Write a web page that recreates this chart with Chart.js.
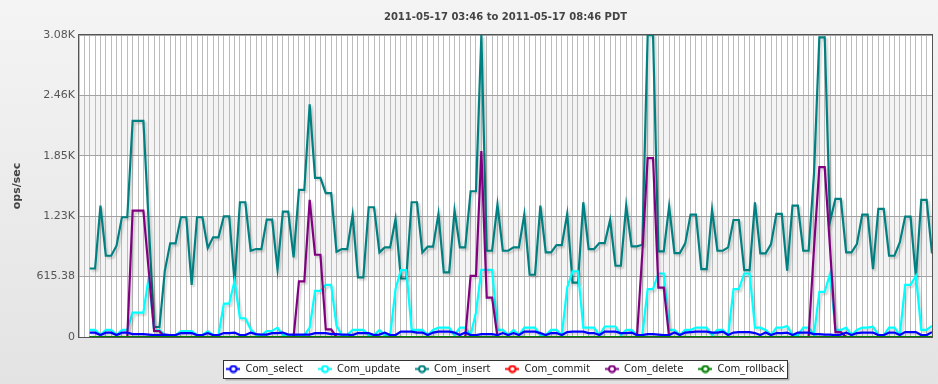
<!DOCTYPE html>
<html>
<head>
<meta charset="utf-8">
<script src="https://cdn.jsdelivr.net/npm/chart.js@4.4.0/dist/chart.umd.min.js"></script>
<style>
  html, body { margin: 0; padding: 0; }
  body { width: 938px; height: 384px; background: linear-gradient(#f4f4f4, #e3e3e3); overflow: hidden; }
  #wrap { width: 938px; height: 384px; }
</style>
</head>
<body>
<div id="wrap"><canvas id="opsChart" width="938" height="384"></canvas></div>
<script>
// samples every ~1.89 min, 03:46 -> 08:46 (x axis in minutes after 03:46)
const tickMinutes = [43.33, 86.67, 130, 173.33, 216.67, 260];
const tickLabels = ['04:29', '05:12', '05:56', '06:39', '07:23', '08:06'];
const yTicks = [0, 615.38, 1230.77, 1846.15, 2461.54, 3076.92];
const yTickLabels = ['0', '615.38', '1.23K', '1.85K', '2.46K', '3.08K'];

const comSelect = [
  44, 44, 20, 44, 44, 20, 44, 44, 30, 30, 30, 25, 20, 20, 25, 20, 20, 40, 40, 40, 20, 20, 40, 20, 20, 40, 40, 45, 20, 20, 45,
  30, 25, 25, 40, 40, 45, 25, 25, 25, 25, 25, 40, 40, 40, 30, 30, 25, 25, 20, 40, 40, 40, 20, 25, 45, 20, 20, 55, 55, 55, 45, 45,
  20, 45, 55, 55, 55, 45, 20, 45, 20, 20, 30, 30, 30, 20, 40, 20, 40, 20, 55, 55, 55, 40, 20, 40, 40, 20, 50, 55, 55, 55, 40,
  40, 20, 55, 55, 55, 40, 40, 45, 20, 20, 30, 30, 25, 20, 20, 45, 20, 45, 50, 55, 55, 55, 45, 45, 55, 20, 45, 50, 50, 50, 40, 20,
  45, 20, 40, 40, 45, 20, 45, 45, 45, 30, 30, 25, 25, 20, 25, 45, 20, 40, 45, 45, 45, 20, 20, 45, 45, 20, 50, 50, 50, 20, 20, 50
];
const comUpdate = [
  72, 72, 20, 72, 72, 20, 72, 72, 249, 249, 249, 610, 61, 72, 20, 20, 20, 61, 61, 61, 20, 20, 61, 20, 20, 341, 341, 572, 191, 191, 78,
  20, 20, 61, 61, 95, 20, 20, 20, 20, 20, 95, 470, 470, 532, 532, 112, 20, 20, 72, 72, 72, 20, 20, 72, 20, 20, 487, 681, 681, 72, 72, 72,
  20, 72, 95, 95, 95, 20, 95, 95, 20, 250, 683, 683, 683, 72, 72, 20, 72, 20, 95, 95, 95, 20, 20, 72, 72, 20, 504, 668, 668, 95, 95,
  95, 20, 107, 107, 107, 20, 72, 72, 20, 20, 487, 487, 647, 647, 72, 72, 20, 72, 72, 95, 95, 95, 20, 72, 72, 20, 487, 487, 647, 647, 95, 95,
  72, 20, 95, 95, 112, 20, 20, 95, 95, 20, 460, 460, 647, 72, 72, 95, 20, 72, 95, 95, 105, 20, 20, 95, 95, 20, 532, 532, 623, 72, 72, 112
];
const comInsert = [
  698, 698, 1339, 828, 828, 930, 1220, 1220, 2201, 2201, 2201, 1152, 102, 102, 675, 954, 954, 1220, 1220, 531, 1220, 1220, 906, 1015, 1015, 1230, 1230, 555, 1373, 1373, 879,
  896, 896, 1196, 1196, 692, 1278, 1278, 811, 1499, 1499, 2371, 1622, 1622, 1465, 1465, 869, 896, 896, 1244, 606, 606, 1322, 1322, 862, 913, 913, 1203, 596, 596, 1373, 1373, 862,
  920, 920, 1254, 658, 658, 1288, 913, 913, 1485, 1485, 3076, 879, 879, 1349, 879, 879, 913, 913, 1247, 634, 634, 1339, 862, 862, 937, 937, 1254, 555, 555, 1373, 896,
  896, 957, 957, 1192, 726, 726, 1339, 923, 923, 940, 3076, 3076, 872, 872, 1332, 855, 855, 954, 1247, 1247, 692, 692, 1295, 879, 879, 913, 1192, 1192, 681, 681, 1373, 852,
  852, 947, 1254, 1254, 675, 1339, 1339, 879, 879, 1659, 3053, 3053, 1179, 1407, 1407, 862, 862, 947, 1247, 1247, 692, 1305, 1305, 828, 828, 964, 1227, 1227, 606, 1397, 1397, 852
];
const comCommit = [
  0, 0, 0, 0, 0, 0, 0, 0, 0, 0, 0, 0, 0, 0, 0, 0, 0, 0, 0, 0, 0, 0, 0, 0, 0, 0, 0, 0, 0, 0, 0,
  0, 0, 0, 0, 0, 0, 0, 0, 0, 0, 0, 0, 0, 0, 0, 0, 0, 0, 0, 0, 0, 0, 0, 0, 0, 0, 0, 0, 0, 0, 0, 0,
  0, 0, 0, 0, 0, 0, 0, 0, 0, 0, 0, 0, 0, 0, 0, 0, 0, 0, 0, 0, 0, 0, 0, 0, 0, 0, 0, 0, 0, 0, 0,
  0, 0, 0, 0, 0, 0, 0, 0, 0, 0, 0, 0, 0, 0, 0, 0, 0, 0, 0, 0, 0, 0, 0, 0, 0, 0, 0, 0, 0, 0, 0, 0,
  0, 0, 0, 0, 0, 0, 0, 0, 0, 0, 0, 0, 0, 0, 0, 0, 0, 0, 0, 0, 0, 0, 0, 0, 0, 0, 0, 0, 0, 0, 0, 0
];
const comDelete = [
  0, 0, 0, 0, 0, 0, 0, 0, 1288, 1288, 1288, 675, 61, 61, 0, 0, 0, 0, 0, 0, 0, 0, 0, 0, 0, 0, 0, 0, 0, 0, 0,
  0, 0, 0, 0, 0, 0, 0, 0, 566, 566, 1397, 838, 838, 78, 78, 0, 0, 0, 0, 0, 0, 0, 0, 0, 0, 0, 0, 0, 0, 0, 0, 0,
  0, 0, 0, 0, 0, 0, 0, 0, 623, 623, 1894, 402, 402, 0, 0, 0, 0, 0, 0, 0, 0, 0, 0, 0, 0, 0, 0, 0, 0, 0, 0,
  0, 0, 0, 0, 0, 0, 0, 0, 0, 850, 1823, 1823, 504, 504, 0, 0, 0, 0, 0, 0, 0, 0, 0, 0, 0, 0, 0, 0, 0, 0, 0, 0,
  0, 0, 0, 0, 0, 0, 0, 0, 0, 900, 1731, 1731, 900, 50, 50, 0, 0, 0, 0, 0, 0, 0, 0, 0, 0, 0, 0, 0, 0, 0, 0, 0
];
const comRollback = comCommit.slice(); // flat zero line as well

const step = 300 / 159;
const gridTicks = [];
for (let k = 0; k <= 159; k++) gridTicks.push({ value: k * step });

function pts(arr) {
  return arr.map((v, i) => ({ x: (i + 2) * step, y: v }));
}

function marker(color) {
  const c = document.createElement('canvas');
  c.width = 14; c.height = 9;
  const g = c.getContext('2d');
  g.strokeStyle = color; g.lineWidth = 2;
  g.beginPath(); g.moveTo(0, 4.5); g.lineTo(14, 4.5); g.stroke();
  g.beginPath(); g.arc(7, 4.5, 3, 0, Math.PI * 2);
  g.fillStyle = '#fff'; g.fill(); g.stroke();
  return c;
}

const font = 'DejaVu Sans';

const bgPlugin = {
  id: 'bg',
  beforeDraw(chart) {
    const { ctx, chartArea: a } = chart;
    const y = chart.scales.y;
    ctx.save();
    ctx.fillStyle = '#fff';
    ctx.fillRect(a.left, a.top, a.right - a.left, a.bottom - a.top);
    ctx.fillStyle = '#f4f4f4';
    [[1, 2], [3, 4]].forEach(([lo, hi]) => {
      const t = y.getPixelForValue(yTicks[hi]);
      const b = y.getPixelForValue(yTicks[lo]);
      ctx.fillRect(a.left, t, a.right - a.left, b - t);
    });
    // legend frame
    const boxes = chart.legend.legendHitBoxes;
    if (boxes && boxes.length) {
      const first = boxes[0], last = boxes[boxes.length - 1];
      const l = Math.round(first.left - 3) + 0.5;
      const r = Math.round(last.left + last.width + 2) + 0.5;
      const cy = first.top + first.height / 2;
      const t = Math.round(cy - 9) + 0.5, h = 18;
      ctx.fillStyle = 'rgba(0,0,0,0.22)';
      ctx.fillRect(l + 2, t + 2, r - l, h);
      ctx.fillStyle = '#fff';
      ctx.fillRect(l, t, r - l, h);
      ctx.strokeStyle = '#333';
      ctx.lineWidth = 1;
      ctx.strokeRect(l, t, r - l, h);
    }
    ctx.restore();
  },
  beforeDatasetsDraw(chart) {
    const ctx = chart.ctx;
    ctx.save();
    ctx.shadowColor = 'rgba(0,0,0,0.18)';
    ctx.shadowBlur = 2;
    ctx.shadowOffsetX = 2;
    ctx.shadowOffsetY = 2;
  },
  afterDatasetsDraw(chart) {
    const { ctx, chartArea: a } = chart;
    ctx.restore();
    ctx.save();
    ctx.strokeStyle = '#555';
    ctx.lineWidth = 1;
    ctx.strokeRect(Math.round(a.left) - 0.5, Math.round(a.top) - 0.5, Math.round(a.right - a.left) + 1, Math.round(a.bottom - a.top) + 1);
    ctx.restore();
  }
};

function line(label, data, color, order) {
  return {
    label: label,
    data: pts(data),
    borderColor: color,
    backgroundColor: color,
    borderWidth: 2.2,
    pointRadius: 0,
    tension: 0,
    fill: false,
    order: order
  };
}

new Chart(document.getElementById('opsChart'), {
  type: 'line',
  data: {
    datasets: [
      line('Com_select', comSelect, '#0000ff', 2),
      line('Com_update', comUpdate, '#00ffff', 4),
      line('Com_insert', comInsert, '#008080', 5),
      line('Com_commit', comCommit, '#ff0000', 1),
      line('Com_delete', comDelete, '#800080', 3),
      line('Com_rollback', comRollback, '#008000', 0)
    ]
  },
  options: {
    responsive: false,
    animation: false,
    events: [],
    layout: { padding: { top: 0, right: 6, bottom: 0, left: 0 } },
    scales: {
      x: {
        type: 'linear', min: 0, max: 300,
        afterBuildTicks: s => { s.ticks = gridTicks.slice(); },
        afterFit: s => { s.height = 0; },
        ticks: { display: false },
        grid: { color: '#bcbcbc', drawTicks: false },
        border: { display: false }
      },
      x2: {
        type: 'linear', position: 'bottom', min: 0, max: 300,
        afterBuildTicks: s => { s.ticks = tickMinutes.map(v => ({ value: v })); },
        afterFit: s => { s.height = 12; },
        grid: { display: false },
        border: { display: false },
        ticks: {
          autoSkip: false, maxRotation: 0, padding: 5, color: '#555',
          font: { family: font, size: 8.5 },
          callback: (v, i) => tickLabels[i]
        }
      },
      y: {
        min: 0, max: 3076.92,
        afterBuildTicks: s => { s.ticks = yTicks.map(v => ({ value: v })); },
        afterFit: s => { s.width = 79; },
        grid: { color: '#a3a3a3', drawTicks: false },
        border: { display: false },
        ticks: {
          padding: 4, color: '#555',
          font: { family: font, size: 11 },
          callback: (v, i) => yTickLabels[i]
        },
        title: {
          display: true, text: 'ops/sec', color: '#444',
          font: { family: font, size: 11, weight: 'bold' },
          padding: { top: 11, bottom: 0 }
        }
      }
    },
    plugins: {
      title: {
        display: true,
        fullSize: false,
        text: '2011-05-17 03:46 to 2011-05-17 08:46 PDT',
        color: '#444',
        font: { family: font, size: 10, weight: 'bold' },
        padding: { top: 11, bottom: 12 }
      },
      legend: {
        position: 'bottom',
        fullSize: false,
        labels: {
          usePointStyle: true,
          pointStyleWidth: 14,
          boxHeight: 10,
          padding: 15,
          color: '#222',
          font: { family: font, size: 10 },
          generateLabels: chart => chart.data.datasets.map((ds, i) => ({
            text: ds.label,
            pointStyle: marker(ds.borderColor),
            fillStyle: ds.borderColor,
            strokeStyle: ds.borderColor,
            lineWidth: 0,
            hidden: false,
            datasetIndex: i,
            fontColor: '#222'
          }))
        }
      },
      tooltip: { enabled: false }
    }
  },
  plugins: [bgPlugin]
});
</script>
</body>
</html>
